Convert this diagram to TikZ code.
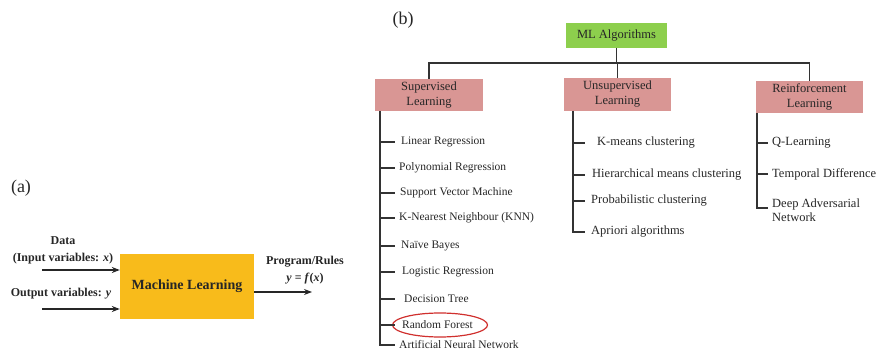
\documentclass[tikz,border=0pt]{standalone}
\usepackage{fontspec}
\setmainfont{Liberation Serif}
\usetikzlibrary{arrows.meta,shapes.geometric}
\definecolor{pinkbox}{HTML}{D99694}
\definecolor{mlgreen}{HTML}{8DCF4D}
\definecolor{mlyellow}{HTML}{F8BB1B}
\definecolor{ringred}{HTML}{D0302E}
\begin{document}
\begin{tikzpicture}[x=1pt,y=-1pt,
  lbl/.style={inner sep=0pt, text=black!85},
  item/.style={lbl, anchor=west, font=\fontsize{11.5}{13}\selectfont},
  itemr/.style={lbl, anchor=west, align=left, font=\fontsize{12.5}{14}\selectfont},
  cat/.style={fill=pinkbox, inner sep=0pt, align=center, text=black!85, font=\fontsize{12.5}{15}\selectfont},
  tree/.style={line width=1.5pt, draw=black!80},
  arr/.style={line width=1.2pt, draw=black!85, -{Stealth[length=8pt,width=6pt]}},
  bl/.style={lbl, align=center, font=\bfseries\fontsize{12}{17}\selectfont},
  panel/.style={lbl, font=\fontsize{18}{20}\selectfont}]
\useasboundingbox (0,0) rectangle (880,352);
\clip (0,0) rectangle (880,352);

% ---------- (a) ----------
\node[panel] (pa) at (21,188) {(a)};
\node[fill=mlyellow, minimum width=134pt, minimum height=65pt, inner sep=0pt,
      font=\bfseries\fontsize{14}{16}\selectfont, text=black!85] (mlbox) at (187,286.5) {Machine Learning};
\node[bl] (data) at (63,250.5) {Data\\(Input variables: \textit{x})};
\node[bl] (outv) at (61,294) {Output variables: \textit{y}};
\node[bl] (prog) at (305,270.5) {Program/Rules\\\textit{y} = \textit{f}(\textit{x})};
\coordinate (in1) at (42,270);
\coordinate (in2) at (42,309);
\coordinate (out) at (312,292);
\draw[arr] (in1) -- (in1 -| mlbox.west);
\draw[arr] (in2) -- (in2 -| mlbox.west);
\draw[arr] (mlbox.east |- out) -- (out);

% ---------- (b) ----------
\node[panel] (pb) at (403,20) {(b)};
\node[fill=mlgreen, minimum width=101pt, minimum height=25pt, inner sep=0pt,
      text=black!85, font=\fontsize{12.5}{15}\selectfont] (ml) at (616.5,35.5) {ML Algorithms};
\node[cat, minimum width=108pt, minimum height=32pt] (sup) at (429,95) {Supervised\\Learning};
\node[cat, minimum width=107pt, minimum height=33pt] (uns) at (617.5,94.5) {Unsupervised\\Learning};
\node[cat, minimum width=107pt, minimum height=32pt] (rei) at (809.5,97) {Reinforcement\\Learning};

\coordinate (bus) at (0,63);
\draw[tree] (ml.south) -- (ml.south |- bus);
\draw[tree] (sup.north) -- (sup.north |- bus) -- (rei.north |- bus) -- (rei.north);
\draw[tree] (uns.north) -- (uns.north |- bus);

% supervised items
\node[item] (lr)   at (401,142) {Linear Regression};
\node[item] (pr)   at (399,168) {Polynomial Regression};
\node[item] (svm)  at (400,193) {Support Vector Machine};
\node[item] (knn)  at (399,218) {K-Nearest Neighbour (KNN)};
\node[item] (nb)   at (401,246) {Naïve Bayes};
\node[item] (logr) at (402,272) {Logistic Regression};
\node[item] (dt)   at (404,299) {Decision Tree};
\node[item] (rf)   at (402,325) {Random Forest};
\node[item] (ann)  at (399,345) {Artificial Neural Network};
\node[draw=ringred, line width=1.2pt, ellipse, minimum width=95pt, minimum height=24pt, inner sep=0pt] (ring) at (440,325) {};

\coordinate (spS) at (380,111);
\coordinate (tkS) at (395,0);
\draw[tree] (spS) -- (spS |- ann) -- (tkS |- ann);
\foreach \n in {lr,pr,svm,knn,nb,logr,dt,rf}
  \draw[tree] (spS |- \n) -- (tkS |- \n);

% unsupervised items
\node[itemr] (km) at (597,143) {K-means clustering};
\node[itemr] (hc) at (592,175) {Hierarchical means clustering};
\node[itemr] (pc) at (591,201) {Probabilistic clustering};
\node[itemr] (ap) at (591,232) {Apriori algorithms};
\coordinate (spU) at (573,111);
\coordinate (tkU) at (585,0);
\draw[tree] (spU) -- (spU |- ap) -- (tkU |- ap);
\foreach \n in {km,hc,pc}
  \draw[tree] (spU |- \n) -- (tkU |- \n);

% reinforcement items
\node[itemr] (ql)  at (772,143) {Q-Learning};
\node[itemr] (td)  at (772,174) {Temporal Difference};
\node[itemr] (dan) at (772,210) {Deep Adversarial\\Network};
\coordinate (spR) at (757,113);
\coordinate (tkR) at (768,0);
\coordinate (endR) at (0,208);
\draw[tree] (spR) -- (spR |- endR) -- (tkR |- endR);
\foreach \n in {ql,td}
  \draw[tree] (spR |- \n) -- (tkR |- \n);
\end{tikzpicture}
\end{document}
